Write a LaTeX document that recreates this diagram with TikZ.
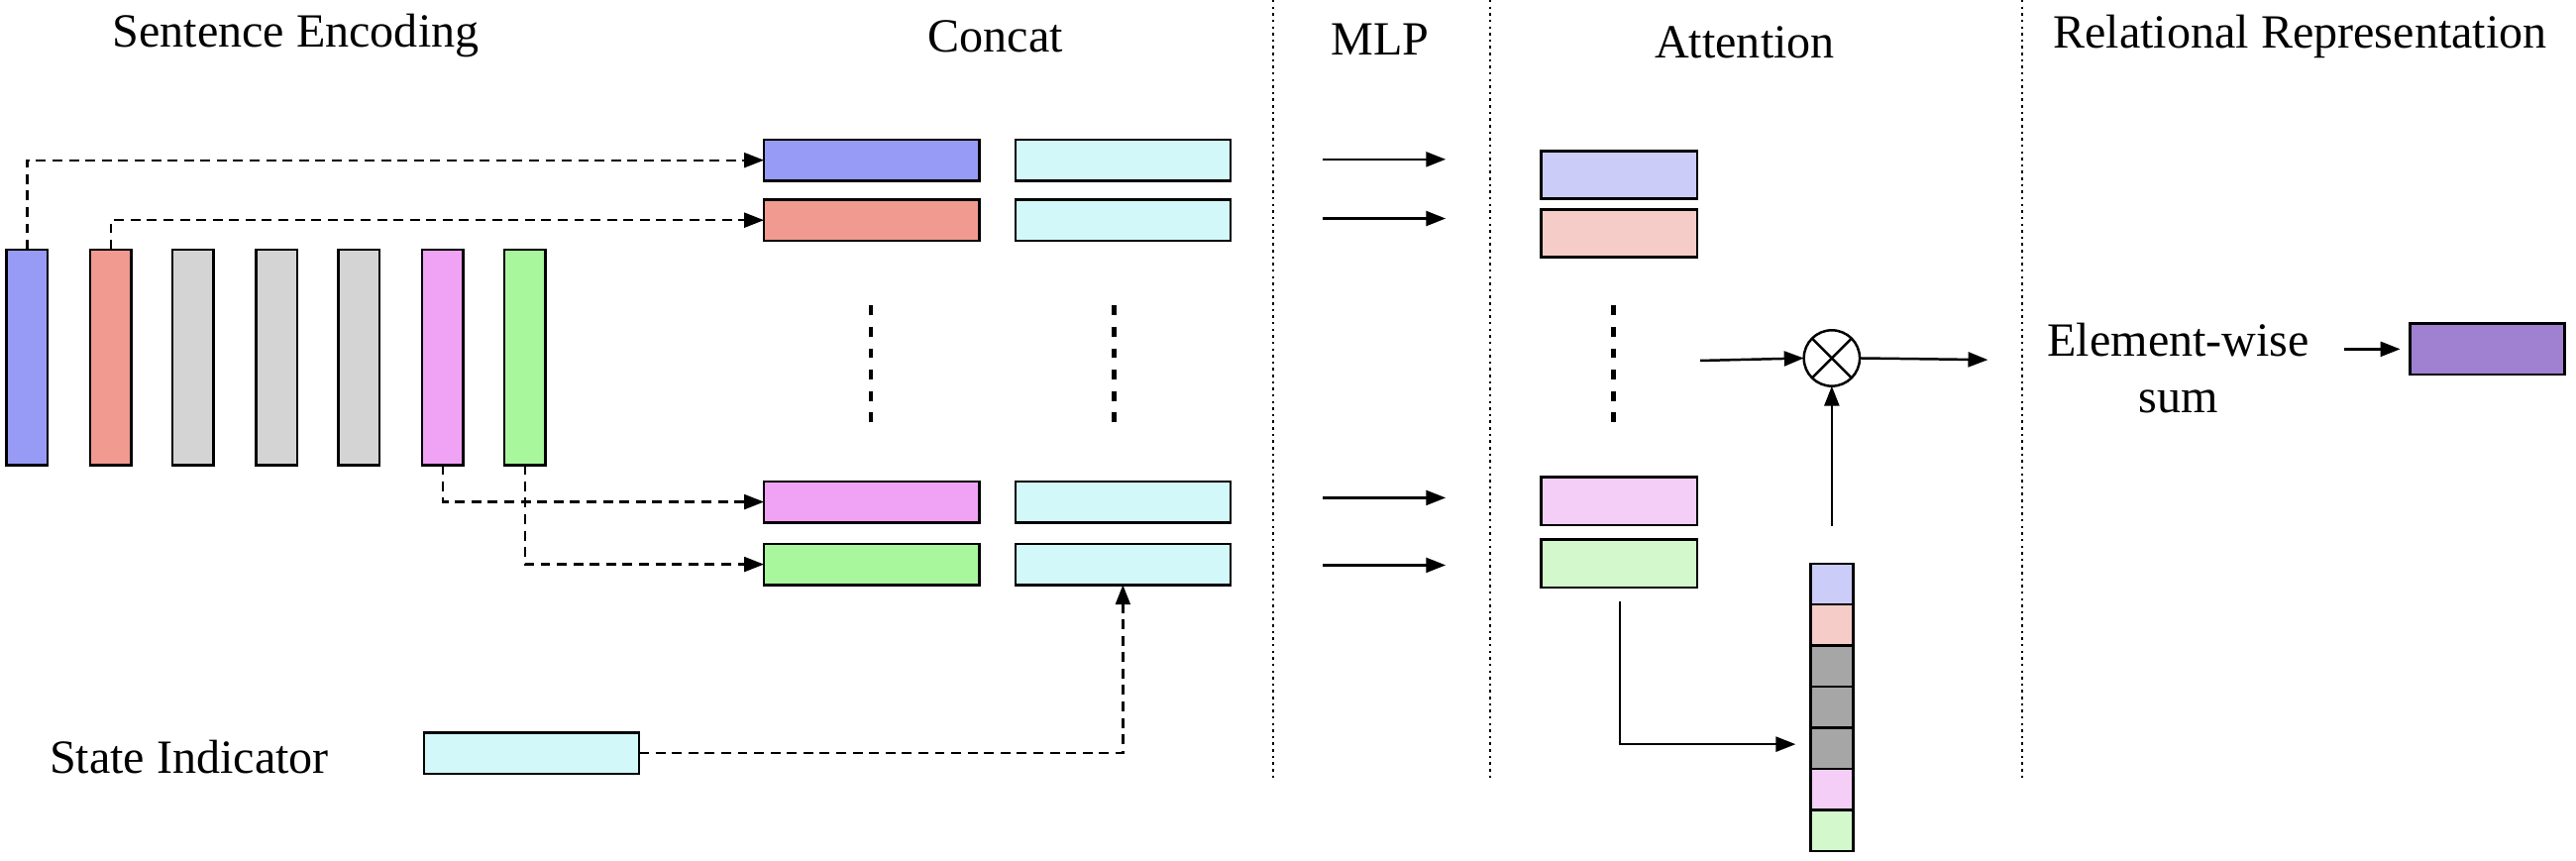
\documentclass[tikz,border=0pt]{standalone}
\usepackage{fontspec}
\setmainfont{Liberation Serif}
\usetikzlibrary{arrows.meta}
\definecolor{cblue}{HTML}{979BF5}
\definecolor{cred}{HTML}{F09A90}
\definecolor{cgrey}{HTML}{D4D4D4}
\definecolor{cpink}{HTML}{F0A2F5}
\definecolor{cgreen}{HTML}{A8F79C}
\definecolor{ccyan}{HTML}{D2F8FA}
\definecolor{lblue}{HTML}{CCCCF8}
\definecolor{lred}{HTML}{F5CCC8}
\definecolor{lpink}{HTML}{F5CEF8}
\definecolor{lgreen}{HTML}{D2F8CC}
\definecolor{dgrey}{HTML}{A6A6A6}
\definecolor{cpurple}{HTML}{A080D0}
\tikzset{
  box/.style={draw=black, line width=1.5pt, inner sep=0pt, outer sep=0pt},
  vbar/.style={box, minimum width=25pt, minimum height=131pt},
  hbar/.style={box, minimum width=131pt, minimum height=25pt},
  abar/.style={box, minimum width=95pt, minimum height=29pt},
  cell/.style={box, minimum width=26pt, minimum height=25pt},
  ttl/.style={font=\fontsize{29}{33}\selectfont, inner sep=0pt},
  tip/.style={-{Triangle[length=12pt,width=9pt]}},
  dasharrow/.style={tip, line width=1.4pt, dash pattern=on 6pt off 4pt},
  solarrow/.style={tip, line width=1.5pt},
  vdots/.style={line width=2.8pt, dash pattern=on 6pt off 7pt},
  sep/.style={line width=1.1pt, dash pattern=on 1.5pt off 2.5pt},
}
\begin{document}
\begin{tikzpicture}[x=1pt,y=-1pt]
\useasboundingbox (0,0) rectangle (1568,524);
% separators
\coordinate (s1t) at (775,0); \coordinate (s1b) at (775,475);
\coordinate (s2t) at (907,0); \coordinate (s2b) at (907,475);
\coordinate (s3t) at (1231,0); \coordinate (s3b) at (1231,475);
\draw[sep] (s1t) -- (s1b);
\draw[sep] (s2t) -- (s2b);
\draw[sep] (s3t) -- (s3b);
% titles
\node[ttl] (tse) at (180,22) {Sentence Encoding};
\node[ttl] (tco) at (606,22) {Concat};
\node[ttl] (tml) at (840,24) {MLP};
\node[ttl] (tat) at (1062,26) {Attention};
\node[ttl] (trr) at (1400,22) {Relational Representation};
% sentence encoding bars
\node[vbar, fill=cblue]  (b1) at (16.5,217.5) {};
\node[vbar, fill=cred]   (b2) at (67.5,217.5) {};
\node[vbar, fill=cgrey]  (b3) at (117.5,217.5) {};
\node[vbar, fill=cgrey]  (b4) at (168.5,217.5) {};
\node[vbar, fill=cgrey]  (b5) at (218.5,217.5) {};
\node[vbar, fill=cpink]  (b6) at (269.5,217.5) {};
\node[vbar, fill=cgreen] (b7) at (319.5,217.5) {};
% concat boxes
\node[hbar, fill=cblue]  (c1l) at (530.5,97.5) {};
\node[hbar, fill=cred]   (c2l) at (530.5,134) {};
\node[hbar, fill=cpink]  (c3l) at (530.5,305.5) {};
\node[hbar, fill=cgreen] (c4l) at (530.5,343.5) {};
\node[hbar, fill=ccyan]  (c1r) at (683.5,97.5) {};
\node[hbar, fill=ccyan]  (c2r) at (683.5,134) {};
\node[hbar, fill=ccyan]  (c3r) at (683.5,305.5) {};
\node[hbar, fill=ccyan]  (c4r) at (683.5,343.5) {};
\coordinate (d1t) at (530,186); \coordinate (d1b) at (530,260);
\coordinate (d2t) at (678,186); \coordinate (d2b) at (678,260);
\draw[vdots] (d1t) -- (d1b);
\draw[vdots] (d2t) -- (d2b);
% dashed connectors
\draw[dasharrow] (b1.north) |- (c1l.west);
\draw[dasharrow] (b2.north) |- (c2l.west);
\draw[dasharrow] (b6.south) |- (c3l.west);
\draw[dasharrow] (b7.south) |- (c4l.west);
% state indicator
\node[ttl, anchor=west] (tsi) at (30,461) {State Indicator};
\node[hbar, fill=ccyan] (si) at (323.5,458.5) {};
\draw[dasharrow] (si.east) -| (c4r.south);
% MLP arrows
\coordinate (m1s) at (805,97);  \coordinate (m1e) at (880,97);
\coordinate (m2s) at (805,133); \coordinate (m2e) at (880,133);
\coordinate (m3s) at (805,303); \coordinate (m3e) at (880,303);
\coordinate (m4s) at (805,344); \coordinate (m4e) at (880,344);
\draw[solarrow] (m1s) -- (m1e);
\draw[solarrow] (m2s) -- (m2e);
\draw[solarrow] (m3s) -- (m3e);
\draw[solarrow] (m4s) -- (m4e);
% attention boxes
\node[abar, fill=lblue]  (a1) at (985.5,106.5) {};
\node[abar, fill=lred]   (a2) at (985.5,142) {};
\node[abar, fill=lpink]  (a3) at (985.5,305) {};
\node[abar, fill=lgreen] (a4) at (985.5,343) {};
\coordinate (d3t) at (982,186); \coordinate (d3b) at (982,260);
\draw[vdots] (d3t) -- (d3b);
% multiply
\node[draw, circle, line width=1.5pt, minimum size=34pt, inner sep=0pt, outer sep=0pt] (ot) at (1115,218) {};
\draw[line width=1.5pt] (ot.north west) -- (ot.south east);
\draw[line width=1.5pt] (ot.north east) -- (ot.south west);
\coordinate (x1) at (1035,219.5);
\coordinate (x2) at (1210,219);
\draw[solarrow] (x1) -- (ot.west);
\draw[solarrow] (ot.east) -- (x2);
% attention vector
\node[cell, fill=lblue]  (v1) at (1115,355.5) {};
\node[cell, fill=lred]   (v2) at (1115,380.5) {};
\node[cell, fill=dgrey]  (v3) at (1115,405.5) {};
\node[cell, fill=dgrey]  (v4) at (1115,430.5) {};
\node[cell, fill=dgrey]  (v5) at (1115,455.5) {};
\node[cell, fill=lpink]  (v6) at (1115,480.5) {};
\node[cell, fill=lgreen] (v7) at (1115,505.5) {};
\coordinate (up) at (1115,320);
\draw[solarrow] (up) -- (ot.south);
\coordinate (ls) at (986,366);
\coordinate (le) at (1093,453);
\draw[solarrow] (ls) |- (le);
% relational representation
\node[ttl, align=center] (ews) at (1326,224) {Element-wise\\[1pt]sum};
\node[box, fill=cpurple, minimum width=94pt, minimum height=31pt] (rr) at (1514,212.5) {};
\coordinate (r1) at (1427,212.5);
\coordinate (r2) at (1461,212.5);
\draw[solarrow] (r1) -- (r2);
\end{tikzpicture}
\end{document}
